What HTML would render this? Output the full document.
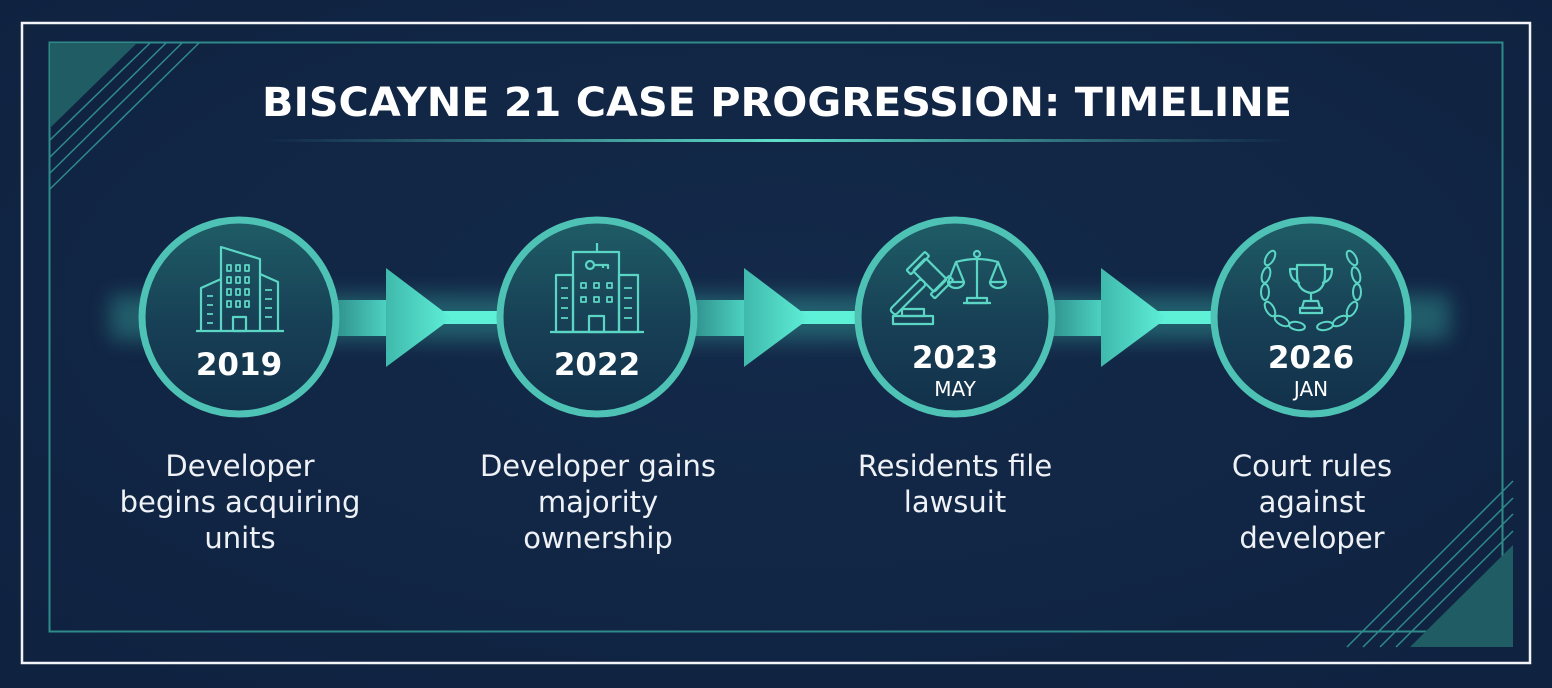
<!DOCTYPE html>
<html><head><meta charset="utf-8"><style>
html,body{margin:0;padding:0;background:#0f2240;}
svg{display:block}
text{font-family:"DejaVu Sans","Liberation Sans",sans-serif}
</style></head><body>
<svg width="1552" height="688" viewBox="0 0 1552 688" xmlns="http://www.w3.org/2000/svg">
<defs>
<radialGradient id="bg" cx="50%" cy="45%" r="70%"><stop offset="0" stop-color="#142a4a"/><stop offset="1" stop-color="#0f2240"/></radialGradient>
<linearGradient id="cf" x1="0" y1="0" x2="0" y2="1"><stop offset="0" stop-color="#1f5d66"/><stop offset="0.55" stop-color="#173f55"/><stop offset="1" stop-color="#12304a"/></linearGradient>
<linearGradient id="ul" x1="0" y1="0" x2="1" y2="0"><stop offset="0" stop-color="#4ec3b5" stop-opacity="0"/><stop offset="0.5" stop-color="#5fe0cc"/><stop offset="1" stop-color="#4ec3b5" stop-opacity="0"/></linearGradient>
<linearGradient id="sh" x1="0" y1="0" x2="1" y2="0"><stop offset="0" stop-color="#2c8a88"/><stop offset="1" stop-color="#4fd6c3"/></linearGradient>
<linearGradient id="hd" x1="0" y1="0" x2="1" y2="0"><stop offset="0" stop-color="#3fb9ac"/><stop offset="1" stop-color="#5ff0d8"/></linearGradient>
<filter id="blur" x="-20%" y="-200%" width="140%" height="500%"><feGaussianBlur stdDeviation="10"/></filter>
</defs>
<rect width="1552" height="688" fill="url(#bg)"/>
<rect x="22" y="23" width="1508" height="640" fill="none" stroke="#f2f4f7" stroke-width="2.5"/>
<rect x="49.5" y="42.5" width="1453" height="589" fill="none" stroke="#2f8a8a" stroke-width="2"/>
<polygon points="50,43 137,43 50,128" fill="#1f5c63"/>
<g stroke="#2f8a8a" stroke-width="1.5">
<line x1="150" y1="43" x2="50" y2="140"/><line x1="166" y1="43" x2="50" y2="157"/><line x1="182" y1="43" x2="50" y2="173"/><line x1="199" y1="43" x2="50" y2="189"/>
</g>
<polygon points="1513,545 1513,647 1410,647" fill="#1f5c63"/>
<g stroke="#2f8a8a" stroke-width="1.5">
<line x1="1513" y1="481" x2="1347" y2="647"/><line x1="1513" y1="498" x2="1363" y2="647"/><line x1="1513" y1="514" x2="1380" y2="647"/><line x1="1513" y1="531" x2="1396" y2="647"/>
</g>
<text x="262" y="116" textLength="1030" lengthAdjust="spacingAndGlyphs" font-size="40" font-weight="bold" fill="#ffffff">BISCAYNE 21 CASE PROGRESSION: TIMELINE</text>
<rect x="262" y="139" width="1030" height="3" fill="url(#ul)"/>
<rect x="110" y="295" width="1340" height="45" fill="#3fc6b4" opacity="0.35" filter="url(#blur)"/>
<g>
<rect x="330" y="300" width="60" height="36" fill="url(#sh)"/><rect x="440" y="311" width="70" height="13" fill="#5ff0d8"/><polygon points="386,268 452,318 386,367" fill="url(#hd)"/>
<rect x="688" y="300" width="60" height="36" fill="url(#sh)"/><rect x="798" y="311" width="70" height="13" fill="#5ff0d8"/><polygon points="744,268 810,318 744,367" fill="url(#hd)"/>
<rect x="1045" y="300" width="60" height="36" fill="url(#sh)"/><rect x="1155" y="311" width="70" height="13" fill="#5ff0d8"/><polygon points="1101,268 1167,318 1101,367" fill="url(#hd)"/>
</g>
<g stroke="#4ec3b5" stroke-width="7" fill="url(#cf)">
<circle cx="239" cy="317" r="97"/><circle cx="597" cy="317" r="97"/><circle cx="955" cy="317" r="97"/><circle cx="1311" cy="317" r="97"/>
</g>
<g stroke="#5cd6c4" stroke-width="2.2" fill="none" stroke-linejoin="round">
<line x1="196" y1="331" x2="284" y2="331"/>
<polyline points="221,331 221,247 260,259 260,331"/>
<polyline points="201,331 201,288 221,279"/>
<polyline points="260,274 278,282 278,331"/>
<rect x="233" y="317" width="13" height="14"/>
<g stroke-width="1.8"><rect x="227" y="265" width="4" height="6"/><rect x="236" y="265" width="4" height="6"/><rect x="245" y="265" width="4" height="6"/>
<rect x="227" y="277" width="4" height="6"/><rect x="236" y="277" width="4" height="6"/><rect x="245" y="277" width="4" height="6"/>
<rect x="227" y="289" width="4" height="6"/><rect x="236" y="289" width="4" height="6"/><rect x="245" y="289" width="4" height="6"/>
<rect x="227" y="301" width="4" height="6"/><rect x="236" y="301" width="4" height="6"/><rect x="245" y="301" width="4" height="6"/>
<path d="M207 296h6M207 305h6M207 314h6M207 323h6M265 290h7M265 299h7M265 308h7M265 317h7"/></g>
<line x1="550" y1="332" x2="644" y2="332"/>
<rect x="573" y="252" width="46" height="80"/><line x1="597" y1="243" x2="597" y2="252"/>
<rect x="556" y="275" width="17" height="57"/><rect x="619" y="275" width="19" height="57"/>
<rect x="589" y="316" width="15" height="16"/>
<circle cx="590" cy="265" r="4"/><path d="M594 265h14v4M603 265v3"/>
<g stroke-width="1.8"><rect x="581" y="283" width="5" height="5"/><rect x="594" y="283" width="5" height="5"/><rect x="607" y="283" width="5" height="5"/>
<rect x="581" y="297" width="5" height="5"/><rect x="594" y="297" width="5" height="5"/><rect x="607" y="297" width="5" height="5"/>
<path d="M561 288h7M561 298h7M561 308h7M561 318h7M624 288h8M624 298h8M624 308h8M624 318h8"/></g>
<g transform="rotate(45 920 285)"><rect x="905" y="262" width="30" height="18" rx="2"/><rect x="900" y="258" width="6" height="26" rx="1"/><rect x="934" y="258" width="6" height="26" rx="1"/><rect x="916" y="280" width="8" height="44" rx="3"/></g>
<rect x="893" y="316" width="40" height="8"/><rect x="902" y="309" width="22" height="7"/>
<line x1="977" y1="258" x2="977" y2="298"/><circle cx="977" cy="254" r="3"/><path d="M956 262 Q977 256 998 262"/>
<path d="M956 262 l-8 20 h16 z M998 262 l-8 20 h16 z"/><path d="M948 282 a8 6 0 0 0 16 0 M990 282 a8 6 0 0 0 16 0"/>
<rect x="967" y="298" width="20" height="5"/><line x1="963" y1="303" x2="991" y2="303"/>
<path d="M1297 265 h28 v10 q0 16 -14 18 q-14 -2 -14 -18 z"/><path d="M1297 269 h-7 q0 12 10 14 M1325 269 h7 q0 12 -10 14"/>
<path d="M1311 293 v8 M1304 301 h14 l2 7 h-18 z"/><rect x="1300" y="308" width="22" height="5"/>
<g stroke-width="2">
<ellipse cx="1270" cy="258" rx="4" ry="8" transform="rotate(30 1270 258)"/><ellipse cx="1266" cy="275" rx="4" ry="8" transform="rotate(15 1266 275)"/><ellipse cx="1265" cy="292" rx="4" ry="8"/><ellipse cx="1270" cy="309" rx="4" ry="8" transform="rotate(-30 1270 309)"/><ellipse cx="1282" cy="321" rx="4" ry="8" transform="rotate(-60 1282 321)"/><ellipse cx="1297" cy="326" rx="4" ry="8" transform="rotate(-80 1297 326)"/>
<ellipse cx="1352" cy="258" rx="4" ry="8" transform="rotate(-30 1352 258)"/><ellipse cx="1356" cy="275" rx="4" ry="8" transform="rotate(-15 1356 275)"/><ellipse cx="1357" cy="292" rx="4" ry="8"/><ellipse cx="1352" cy="309" rx="4" ry="8" transform="rotate(30 1352 309)"/><ellipse cx="1340" cy="321" rx="4" ry="8" transform="rotate(60 1340 321)"/><ellipse cx="1325" cy="326" rx="4" ry="8" transform="rotate(80 1325 326)"/>
</g>
</g>
<g fill="#ffffff" font-weight="bold" text-anchor="middle" font-size="31">
<text x="239" y="375">2019</text><text x="597" y="375">2022</text><text x="955" y="368">2023</text><text x="1311" y="368">2026</text>
</g>
<g fill="#ffffff" text-anchor="middle" font-size="20">
<text x="955" y="396">MAY</text><text x="1311" y="396">JAN</text>
</g>
<g fill="#eef1f5" text-anchor="middle" font-size="29">
<text x="240" y="476">Developer</text><text x="240" y="512">begins acquiring</text><text x="240" y="548">units</text>
<text x="598" y="476">Developer gains</text><text x="598" y="512">majority</text><text x="598" y="548">ownership</text>
<text x="955" y="476">Residents file</text><text x="955" y="512">lawsuit</text>
<text x="1312" y="476">Court rules</text><text x="1312" y="512">against</text><text x="1312" y="548">developer</text>
</g>
</svg>
</body></html>
